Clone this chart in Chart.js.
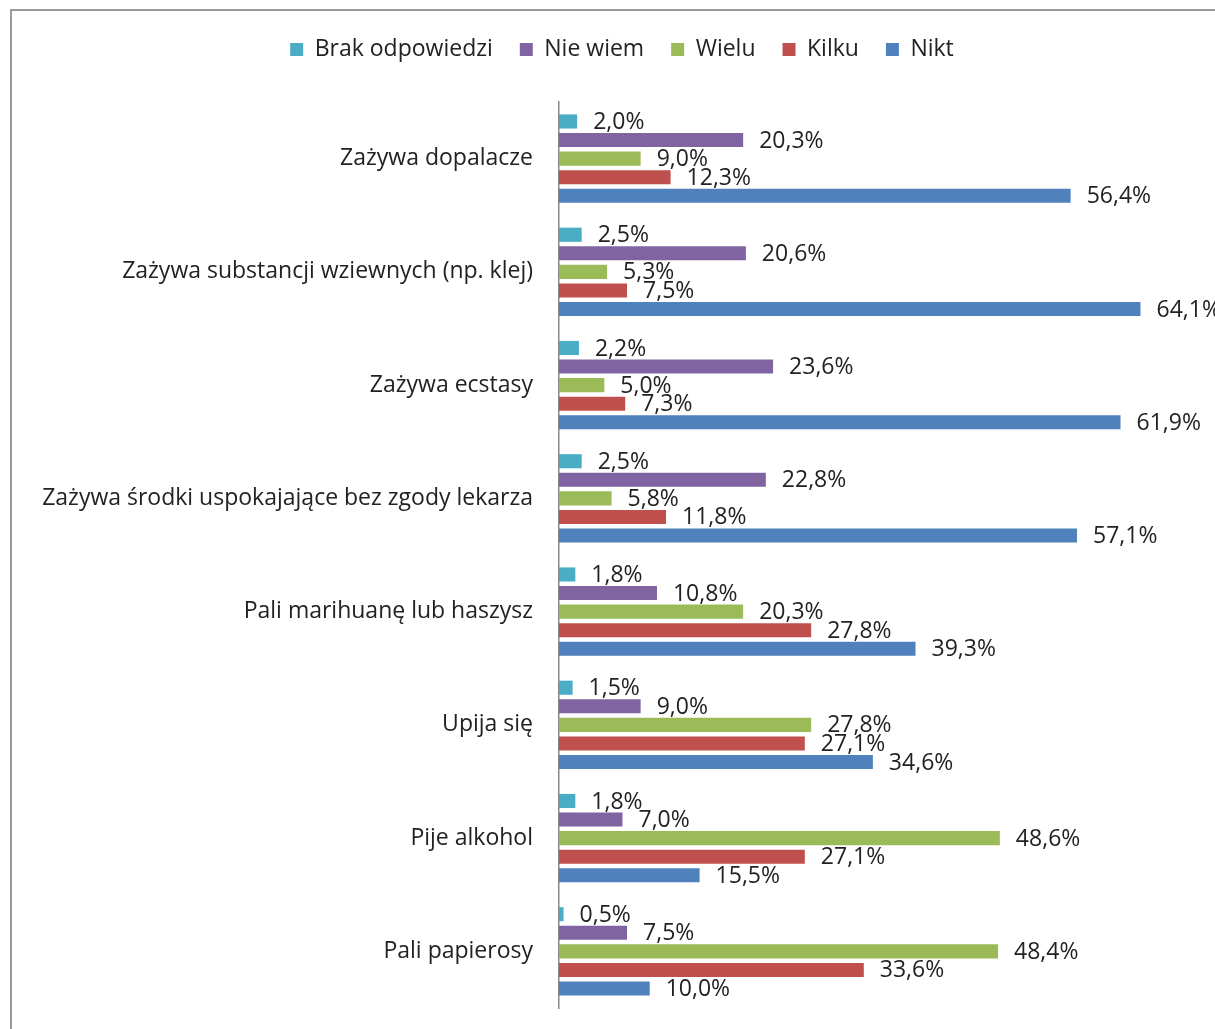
<!DOCTYPE html>
<html><head><meta charset="utf-8">
<script src="https://cdn.jsdelivr.net/npm/chart.js@4"></script>
<style>html,body{margin:0;padding:0;background:#fff}#wrap{width:1215px;height:1029px;position:relative}</style>
</head><body><div id="wrap"><canvas id="c" width="1215" height="1029"></canvas></div>
<script>
const categories = [
  "Zażywa dopalacze",
  "Zażywa substancji wziewnych (np. klej)",
  "Zażywa ecstasy",
  "Zażywa środki uspokajające bez zgody lekarza",
  "Pali marihuanę lub haszysz",
  "Upija się",
  "Pije alkohol",
  "Pali papierosy"
];
const seriesNames = ["Brak odpowiedzi", "Nie wiem", "Wielu", "Kilku", "Nikt"];
const brakOdpowiedzi = [2.0, 2.5, 2.2, 2.5, 1.8, 1.5, 1.8, 0.5];
const nieWiem        = [20.3, 20.6, 23.6, 22.8, 10.8, 9.0, 7.0, 7.5];
const wielu          = [9.0, 5.3, 5.0, 5.8, 20.3, 27.8, 48.6, 48.4];
const kilku          = [12.3, 7.5, 7.3, 11.8, 27.8, 27.1, 27.1, 33.6];
const nikt           = [56.4, 64.1, 61.9, 57.1, 39.3, 34.6, 15.5, 10.0];
const colors = ["#4BACC6", "#8064A2", "#9BBB59", "#C0504D", "#4F81BD"];
const FONT = "'Open Sans', 'Noto Sans', sans-serif";

const valueLabels = {
  id: 'valueLabels',
  afterDatasetsDraw(chart) {
    const ctx = chart.ctx;
    ctx.save();
    ctx.font = "23px " + FONT;
    ctx.fillStyle = "#222";
    ctx.textAlign = "left";
    ctx.textBaseline = "middle";
    chart.data.datasets.forEach((ds, i) => {
      chart.getDatasetMeta(i).data.forEach((el, j) => {
        const v = ds.data[j];
        ctx.fillText(v.toFixed(1).replace('.', ',') + '%', el.x + 16, el.y + 1);
      });
    });
    ctx.restore();
  }
};
const frame = {
  id: 'frame',
  beforeDraw(chart) {
    const ctx = chart.ctx;
    ctx.save();
    ctx.strokeStyle = "#9a9a9a";
    ctx.lineWidth = 2;
    ctx.strokeRect(11, 10, 1400, 1200);
    ctx.restore();
  }
};
const legendGap = {
  id: 'legendGap',
  beforeInit(chart) {
    const lg = chart.legend;
    if (!lg) return;
    const orig = lg.fit;
    lg.fit = function () { orig.call(this); this.height += 31; };
  }
};

const datasets = [brakOdpowiedzi, nieWiem, wielu, kilku, nikt].map((d, i) => ({
  label: seriesNames[i],
  data: d,
  backgroundColor: colors[i],
  borderWidth: 0,
  barPercentage: 0.76,
  categoryPercentage: 0.82
}));

new Chart(document.getElementById('c'), {
  type: 'bar',
  data: { labels: categories, datasets },
  options: {
    indexAxis: 'y',
    responsive: false,
    animation: false,
    layout: { padding: { left: 50, right: 21, top: 11, bottom: 21 } },
    plugins: {
      legend: {
        position: 'top',
        labels: {
          font: { size: 23, family: FONT },
          color: "#222",
          boxWidth: 13, boxHeight: 13,
          padding: 27
        }
      },
      tooltip: { enabled: false }
    },
    scales: {
      x: {
        min: 0, max: 70,
        display: false,
        grid: { display: false }
      },
      y: {
        grid: { display: false, drawTicks: false },
        border: { display: true, color: "#888", width: 1.5 },
        ticks: { font: { size: 23, family: FONT }, color: "#222", padding: 26 },
        afterFit(s) {
          s.width = 509;
          s.paddingTop = 0;
          s.paddingBottom = 0;
          s._computeLabelArea = function () { return undefined; };
        }
      }
    }
  },
  plugins: [valueLabels, frame, legendGap]
});
</script></body></html>
